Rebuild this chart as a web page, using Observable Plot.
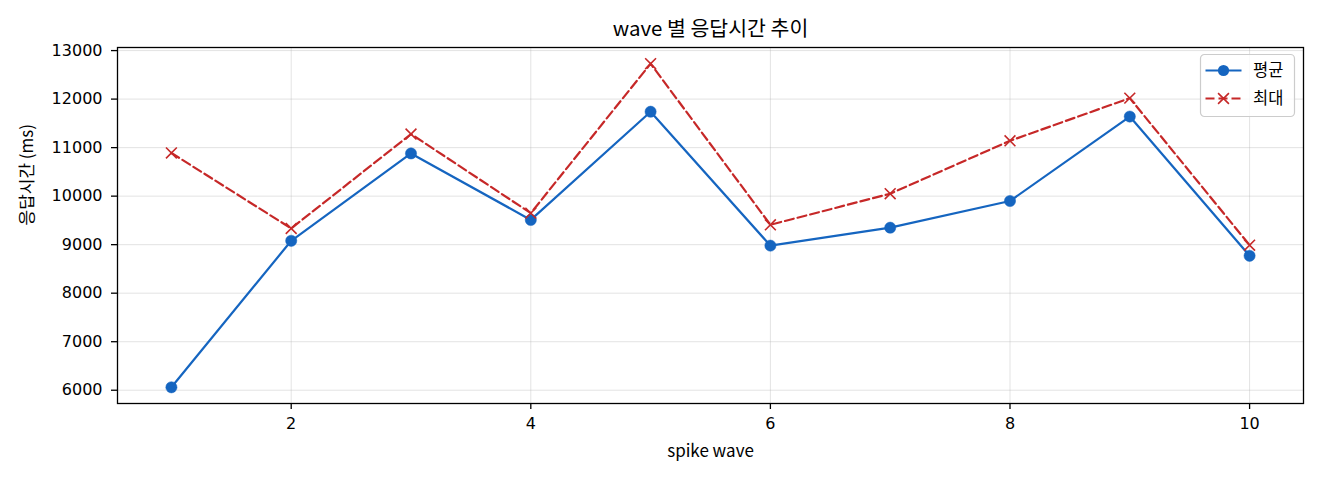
<!DOCTYPE html>
<html>
<head>
<meta charset="utf-8">
<script src="https://cdn.jsdelivr.net/npm/d3@7"></script>
<script src="https://cdn.jsdelivr.net/npm/@observablehq/plot@0.6"></script>
<style>
  html, body { margin: 0; padding: 0; background: white; }
  #wrap { position: relative; width: 1320px; height: 480px; }
  #legend { position: absolute; left: 0; top: 0; }
</style>
</head>
<body>
<div id="wrap"></div>
<script>
const titleText = "wave 별 응답시간 추이";
const xLabelText = "spike wave";
const yLabelText = "응답시간 (ms)";
const seriesNames = ["평균", "최대"];

const waves = [1, 2, 3, 4, 5, 6, 7, 8, 9, 10];
const avgValues = [6060, 9080, 10880, 9510, 11740, 8980, 9350, 9900, 11640, 8770];
const maxValues = [10890, 9335, 11280, 9650, 12730, 9410, 10050, 11140, 12020, 8990];

const xTicks = [2, 4, 6, 8, 10];
const yTicks = [6000, 7000, 8000, 9000, 10000, 11000, 12000, 13000];

const blue = "#1565c0";
const red = "#c62828";
const korFont = "'Noto Sans CJK KR', 'Noto Sans', sans-serif";
const numFont = "'DejaVu Sans', sans-serif";

const rows = waves.map((w, i) => ({wave: w, avg: avgValues[i], max: maxValues[i]}));

// matplotlib-like 5% margins
const all = avgValues.concat(maxValues);
const yMin = d3.min(all), yMax = d3.max(all);
const yPad = (yMax - yMin) * 0.05;
const xMin = d3.min(waves), xMax = d3.max(waves);
const xPad = (xMax - xMin) * 0.05;

const chart = Plot.plot({
  width: 1320,
  height: 480,
  marginTop: 47,
  marginLeft: 117,
  marginRight: 17,
  marginBottom: 77,
  style: {fontFamily: numFont, background: "white", color: "black"},
  x: {domain: [xMin - xPad, xMax + xPad]},
  y: {domain: [yMin - yPad, yMax + yPad]},
  marks: [
    Plot.gridX(xTicks, {stroke: "#b0b0b0", strokeOpacity: 0.35, strokeWidth: 1}),
    Plot.gridY(yTicks, {stroke: "#b0b0b0", strokeOpacity: 0.35, strokeWidth: 1}),
    Plot.line(rows, {x: "wave", y: "avg", stroke: blue, strokeWidth: 2.2}),
    Plot.dot(rows, {x: "wave", y: "avg", r: 5.6, fill: blue, stroke: blue, strokeWidth: 0.5}),
    Plot.line(rows, {x: "wave", y: "max", stroke: red, strokeWidth: 2.2, strokeDasharray: "9,4"}),
    Plot.dot(rows, {x: "wave", y: "max", symbol: "times", r: 5, stroke: red, strokeWidth: 1.6}),
    Plot.frame({stroke: "black", strokeWidth: 1.3}),
    Plot.axisX(xTicks, {tickSize: 6, tickPadding: 8, fontSize: 16, fontFamily: numFont, label: null, tickFormat: d => String(d), strokeWidth: 1.3}),
    Plot.axisY(yTicks, {tickSize: 6, tickPadding: 9, fontSize: 16, fontFamily: numFont, label: null, tickFormat: d => String(d), strokeWidth: 1.3}),
    Plot.text([titleText], {text: d => d, frameAnchor: "top", lineAnchor: "middle", dy: -18, fontSize: 20.5, fontFamily: korFont, fill: "black"}),
    Plot.text([xLabelText], {text: d => d, frameAnchor: "bottom", lineAnchor: "middle", dy: 48, fontSize: 17, fontFamily: korFont, fill: "black"}),
    Plot.text([yLabelText], {text: d => d, frameAnchor: "left", lineAnchor: "middle", dx: -90, rotate: -90, fontSize: 17, fontFamily: korFont, fill: "black"})
  ]
});

const wrap = document.getElementById("wrap");
wrap.appendChild(chart);

// Legend (overlay)
const lg = d3.select(wrap).append("svg")
  .attr("id", "legend")
  .attr("width", 1320).attr("height", 480)
  .style("pointer-events", "none");
const g = lg.append("g").attr("transform", "translate(1200,54)");
g.append("rect").attr("x", 0.5).attr("y", 0.5).attr("width", 94).attr("height", 62).attr("rx", 4)
  .attr("fill", "white").attr("fill-opacity", 0.8).attr("stroke", "#cccccc").attr("stroke-width", 1.2);
const entries = [
  {name: seriesNames[0], color: blue, dash: null, marker: "circle"},
  {name: seriesNames[1], color: red, dash: "9,4", marker: "times"}
];
entries.forEach((e, i) => {
  const cy = 16.5 + i * 28;
  const row = g.append("g").attr("transform", `translate(0,${cy})`);
  row.append("line").attr("x1", 5.5).attr("x2", 41.5).attr("y1", 0).attr("y2", 0)
    .attr("stroke", e.color).attr("stroke-width", 2.2)
    .attr("stroke-dasharray", e.dash);
  if (e.marker === "circle") {
    row.append("circle").attr("cx", 23.5).attr("cy", 0).attr("r", 5.6).attr("fill", e.color);
  } else {
    row.append("path").attr("d", d3.symbol(d3.symbolTimes, Math.PI * 25)()).attr("transform", "translate(23.5,0)")
      .attr("fill", "none").attr("stroke", e.color).attr("stroke-width", 1.6);
  }
  row.append("text").attr("x", 53).attr("y", 0).attr("dy", "0.35em")
    .attr("font-family", korFont).attr("font-size", 16.5).attr("fill", "black").text(e.name);
});
</script>
</body>
</html>
